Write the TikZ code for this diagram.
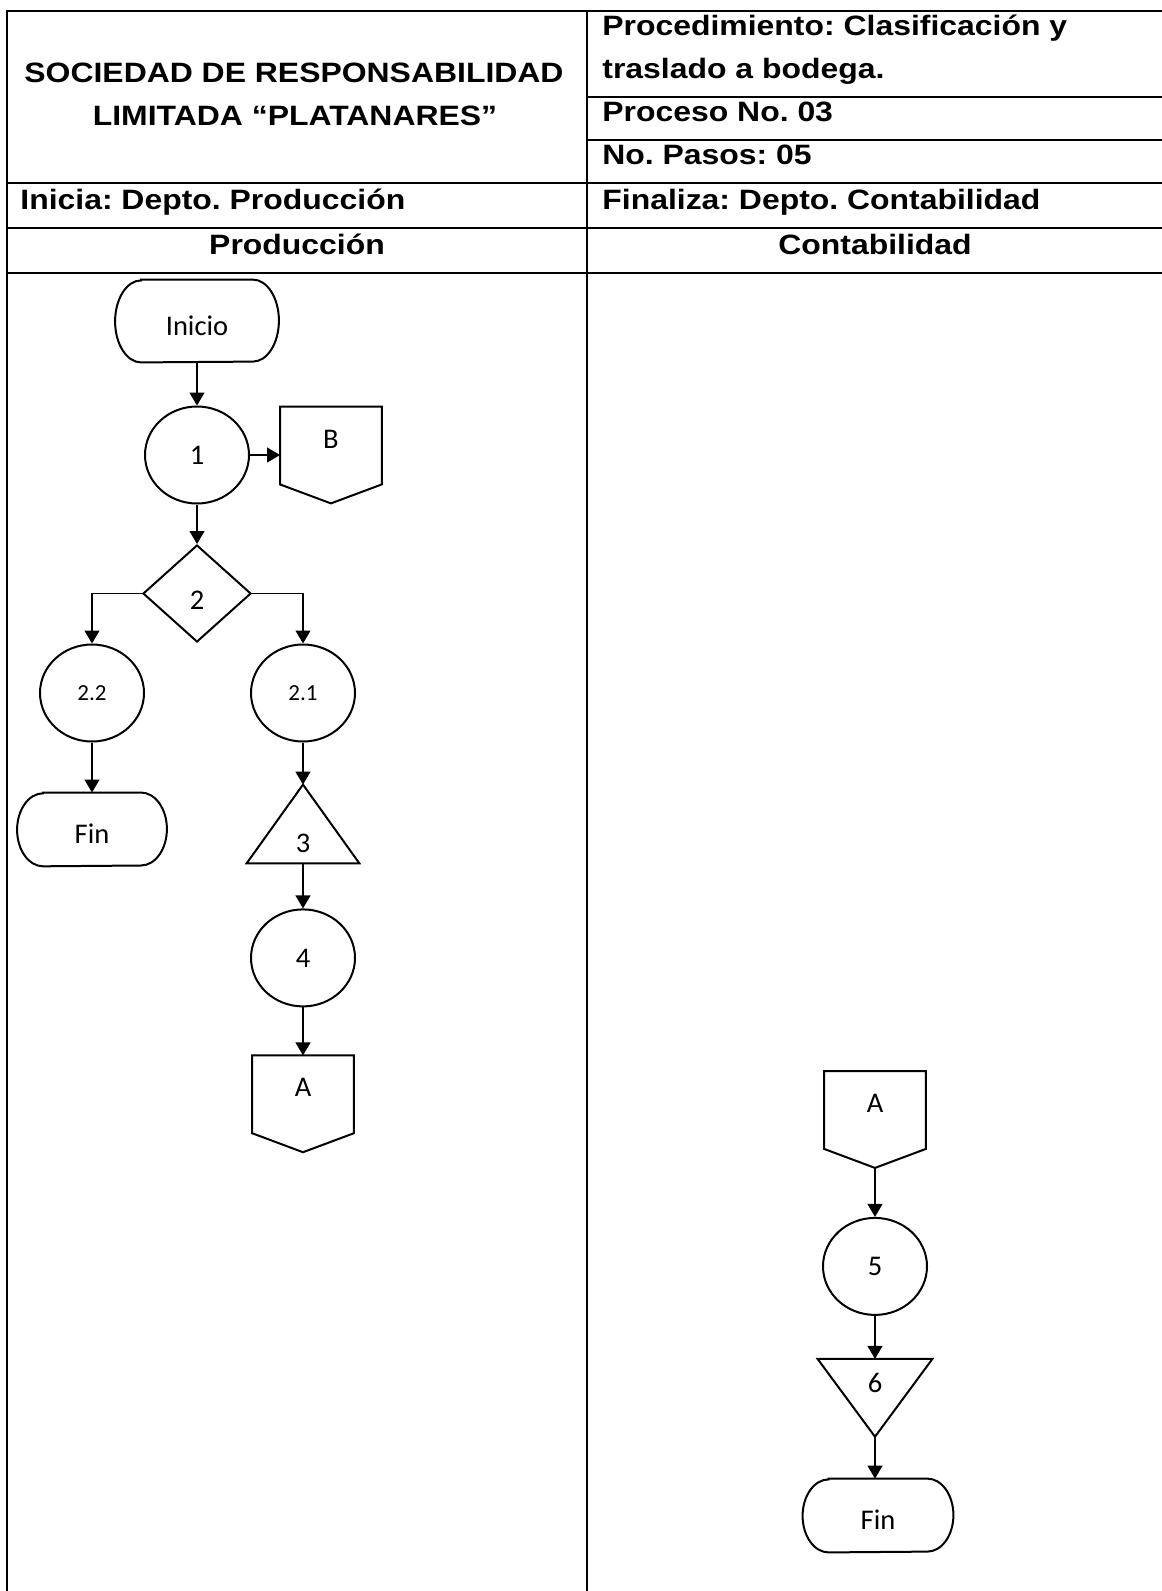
\documentclass[tikz,border=0pt]{standalone}
\usepackage{fontspec}
\setmainfont{Liberation Sans}
\newfontfamily\hdfont[FakeStretch=1.14]{Liberation Sans}
\newfontfamily\calfont{Carlito}
\usetikzlibrary{positioning,arrows.meta,shapes.geometric}
\tikzset{
  >={Triangle[length=6.5pt,width=7.5pt]},
  tline/.style={line width=1.2pt},
  hdtxt/.style={font=\hdfont\bfseries\fontsize{14}{17}\selectfont\frenchspacing,
    inner sep=0pt},
  fl/.style={font=\calfont\fontsize{14.25}{17}\selectfont},
  flsmall/.style={font=\calfont\fontsize{11.5}{14}\selectfont},
  shp/.style={draw,line width=1pt},
  term/.style={fl,rectangle,inner sep=0pt,text height=14pt,text depth=0pt},
  proc/.style={shp,fl,ellipse,minimum width=52pt,minimum height=48.5pt,
    inner sep=0pt},
  dec/.style={shp,fl,diamond,minimum width=54pt,minimum height=48.5pt,
    inner sep=0pt,text height=15.5pt,text depth=0pt},
  conn/.style={fl,rectangle,minimum width=50.5pt,minimum height=48pt,
    inner sep=0pt,text depth=16pt},
  tribox/.style={fl,rectangle,inner sep=0pt},
  flow/.style={->,line width=0.65pt},
}
\begin{document}
\begin{tikzpicture}[x=0.5pt,y=-0.5pt]
  \useasboundingbox (0,0) rectangle (1162,1591);
  \draw[tline] (7,1591) -- (7,11) -- (1162,11);
  \draw[tline] (587,11) -- (587,1591);
  \foreach \yy in {97,140} \draw[tline] (587,\yy) -- (1162,\yy);
  \foreach \yy in {183,228,273} \draw[tline] (7,\yy) -- (1162,\yy);

  \node[hdtxt,anchor=base] (hsoc) at (294,82) {SOCIEDAD DE RESPONSABILIDAD};
  \node[hdtxt,anchor=base] (hlim) at (295,125) {LIMITADA “PLATANARES”};
  \node[hdtxt,anchor=base west] (hproc) at (602,35) {Procedimiento: Clasificación y};
  \node[hdtxt,anchor=base west] (hproc2) at (602,78) {traslado a bodega.};
  \node[hdtxt,anchor=base west] (hnum) at (602,121) {Proceso No. 03};
  \node[hdtxt,anchor=base west] (hpasos) at (602,164) {No. Pasos: 05};
  \node[hdtxt,anchor=base west] (hini) at (20,209) {Inicia: Depto. Producción};
  \node[hdtxt,anchor=base west] (hfin) at (602,209) {Finaliza: Depto. Contabilidad};
  \node[hdtxt,anchor=base] (hprod) at (297,254) {Producción};
  \node[hdtxt,anchor=base] (hcont) at (875,254) {Contabilidad};

  \node[term,minimum width=81.5pt,minimum height=41pt] (ini) at (197,321) {Inicio};
  \node[proc] (s1) at (197,455) {1};
  \node[conn,right=15pt of s1] (pgB) {B};
  \node[dec] (d2) at (197,593.5) {2};
  \node[proc,flsmall] (s22) at (92,693) {2.2};
  \node[proc,flsmall] (s21) at (303,693) {2.1};
  \node[term,minimum width=74.5pt,minimum height=36.5pt,below=25pt of s22] (fin1) {Fin};
  \node[tribox,minimum width=56pt,minimum height=39pt,text height=28pt,text depth=0pt] (t3) at (303,824) {3};
  \node[proc,below=22.5pt of t3] (s4) {4};
  \node[conn,below=24pt of s4] (pgA) {A};

  \node[conn] (pgA2) at (875,1119.5) {A};
  \node[proc,below=24.5pt of pgA2] (s5) {5};
  \node[tribox,minimum width=57pt,minimum height=38.5pt,text depth=14.5pt,below=21.5pt of s5] (t6) {6};
  \node[term,minimum width=75pt,minimum height=36.5pt] (fin2) at (878,1515.5) {Fin};

  \foreach \n/\r in {ini/20.5pt,fin1/18.25pt,fin2/18.25pt}
    \draw[shp] ([xshift=13pt]\n.north west) -- ([xshift=-13pt]\n.north east)
      arc[start angle=90,end angle=-90,x radius=13pt,y radius=\r]
      -- ([xshift=13pt]\n.south west)
      arc[start angle=270,end angle=90,x radius=13pt,y radius=\r] -- cycle;
  \draw[shp] (t3.south west) -- (t3.north) -- (t3.south east) -- cycle;
  \draw[shp] (t6.north west) -- (t6.north east) -- (t6.south) -- cycle;
  \foreach \c in {pgB,pgA,pgA2}
    \draw[shp] (\c.north west) -- (\c.north east) -- ([yshift=9.5pt]\c.south east)
      -- (\c.south) -- ([yshift=9.5pt]\c.south west) -- cycle;

  \draw[flow] (ini) -- (s1);
  \draw[flow] (s1.east) -- (s1.east -| pgB.west);
  \draw[flow] (s1) -- (d2);
  \draw[flow] (d2.west) -| (s22.north);
  \draw[flow] (d2.east) -| (s21.north);
  \draw[flow] (s22) -- (fin1);
  \draw[flow] (s21) -- (t3.north);
  \draw[flow] (t3.south) -- (s4);
  \draw[flow] (s4) -- (pgA);
  \draw[flow] (pgA2.south) -- (s5);
  \draw[flow] (s5) -- (t6);
  \draw[flow] (t6.south) -- (t6.south |- fin2.north);
\end{tikzpicture}
\end{document}
